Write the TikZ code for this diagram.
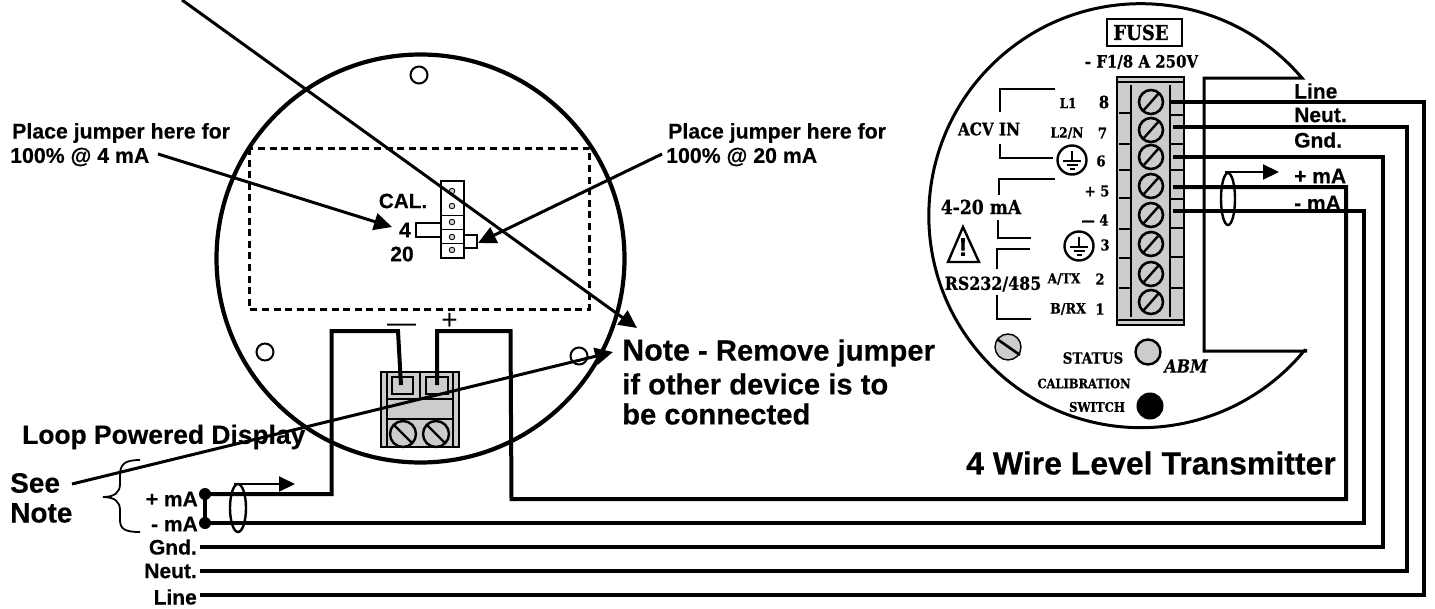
\documentclass[tikz,border=0pt]{standalone}
\usepackage{fontspec}
\setmainfont{Liberation Sans}[BoldFeatures={FakeBold=0.35}]
\newfontfamily\srf[FakeStretch=0.88,BoldFeatures={FakeBold=0.6},BoldItalicFeatures={FakeBold=0.6}]{DejaVu Serif}
\usetikzlibrary{arrows.meta,decorations.pathreplacing}
\definecolor{pgray}{HTML}{CCCCCC}
\tikzset{
  sa/.style={font=\fontsize{#1}{#1}\selectfont\bfseries,inner sep=0pt,text=black},
  se/.style={font=\srf\fontsize{#1}{#1}\selectfont\bfseries,inner sep=0pt,text=black},
  wire/.style={line width=4pt,line join=miter},
  brk/.style={line width=2.2pt},
  thin arrow/.style={line width=3pt,-{Triangle[length=18pt,width=17pt]}},
  slot/.style={draw=black,fill=pgray,line width=2.4pt},
  hole/.style={draw=black,fill=white,line width=2pt},
}
\begin{document}
\begin{tikzpicture}[x=1pt,y=-1pt]
\useasboundingbox (0,0) rectangle (1435,608);
\fill[white] (0,0) rectangle (1435,608);

% ---------- left housing
\draw[line width=4.2pt] (420.5,258.5) circle[radius=204];
\draw[hole] (419,75) circle[radius=8.5];
\draw[hole] (265,352) circle[radius=8.5];
\draw[hole] (579,356) circle[radius=8.5];
\draw[line width=3pt,dash pattern=on 7pt off 4.6pt] (249,148) rectangle (589,309);

% jumper strip
\draw[line width=1.5pt,fill=white] (416,223) rectangle (441,237);
\draw[line width=1.5pt,fill=white] (464,235) rectangle (477,248);
\draw[line width=2.6pt,fill=white] (441,181) rectangle (464,258);
\foreach \y in {215,229,243} \draw[line width=1pt] (441,\y) -- (464,\y);
\foreach \y in {191,206,222,237,250} \draw[fill=pgray,line width=.8pt] (452,\y) circle[radius=2.8];

% left terminal block
\draw[fill=pgray,line width=2.2pt] (381,372) rectangle (459,447);
\draw[line width=1.6pt] (387,372) -- (387,447) (453,372) -- (453,447)
  (420,372) -- (420,399) (387,399) -- (453,399) (387,419) -- (453,419);
\draw[line width=2.4pt] (392,377) rectangle (413,394);
\draw[line width=2.4pt] (426,377) rectangle (448,394);
\foreach \x in {403,436}{
  \draw[slot] (\x,434) circle[radius=13];
  \draw[line width=2.4pt] (\x-9,425) -- (\x+9,443);
}
\node[font=\fontsize{29}{29}\selectfont,inner sep=0pt] (minus) at (401.5,328) {—};
\node[font=\fontsize{28}{28}\selectfont,inner sep=0pt] (plus) at (449.5,321) {+};

% ---------- right housing
\coordinate (arcA) at (1302,78);
\coordinate (arcB) at (1307,351);
\draw[line width=3pt,line join=miter] (arcB) -- (1204,351) -- (1204,78) -- (arcA)
  arc[start angle=-40.5,end angle=-320.6,radius=212] -- (arcB);

% right terminal block
\draw[fill=pgray,line width=2.4pt] (1117,77) rectangle (1184,325);
\draw[line width=2pt] (1117,82) -- (1184,82) (1117,320) -- (1184,320);
\draw[line width=2.2pt] (1131,85) -- (1131,317) (1170,85) -- (1170,317);
\foreach \y in {113,144,170,198,229,258,288} \draw[line width=1.8pt] (1119,\y) -- (1131,\y);
\foreach \y in {115,144,170,199,228,257,288} \draw[line width=1.8pt] (1170,\y) -- (1183,\y);
\foreach \y in {102,130,157,186,215,244,274,302}{
  \draw[line width=2.6pt,fill=pgray] (1151,\y) circle[radius=12];
  \draw[line width=2.4pt] (1143,\y+9) -- (1159,\y-9);
}

% FUSE
\node[draw,line width=1.3pt,minimum width=75pt,minimum height=27pt,inner sep=0pt] (fuse) at (1144.5,32.5) {};
\node[se=20.5] (fusetxt) at (1141,32.5) {FUSE};
\node[se=17] (frate) at (1141.5,62) {- F1/8 A 250V};

% panel labels
\node[se=13.5] (l1) at (1068,103) {L1};
\node[se=17] (t8) at (1104,102) {8};
\node[se=14] (l2) at (1067,133) {L2/N};
\node[se=15] (t7) at (1102.5,133) {7};
\node[se=15] (t6) at (1101,161) {6};
\node[se=15] (t5) at (1097,191) {+ 5};
\node[se=15] (t4) at (1095,220) {— 4};
\node[se=15] (t3) at (1105,245) {3};
\node[se=14] (atx) at (1064,279) {A/TX};
\node[se=15] (t2) at (1100,279) {2};
\node[se=14.5] (brx) at (1068,309) {B/RX};
\node[se=15] (t1) at (1100,309) {1};
\node[se=17.3] (acv) at (989,129) {ACV IN};
\node[se=19.5] (ma420) at (981,207) {4-20 mA};
\node[se=18] (rs) at (993,284) {RS232/485};

% panel brackets
\draw[brk] (1055,89) -- (1000,89) -- (1000,112);
\draw[brk] (1000,144) -- (1000,158) -- (1053,158);
\draw[brk] (1055,179) -- (999,179) -- (999,195);
\draw[brk] (998,220) -- (998,238) -- (1031,238);
\draw[brk] (1030,249) -- (997,249) -- (997,269);
\draw[brk] (997,295) -- (997,319) -- (1031,319);

% ground symbols
\foreach \cx/\cy in {1072/160,1079/246}{
  \draw[line width=2.4pt] (\cx,\cy) circle[radius=14.5];
  \draw[line width=1.8pt] (\cx,\cy-9) -- (\cx,\cy+1)
    (\cx-9,\cy+1) -- (\cx+9,\cy+1)
    (\cx-5.5,\cy+5) -- (\cx+5.5,\cy+5)
    (\cx-2.5,\cy+9) -- (\cx+2.5,\cy+9);
}

% warning triangle
\draw[line width=2.4pt,line join=miter] (963,227) -- (979,262) -- (948,262) -- cycle;
\node[sa=26] (warn) at (963,247) {!};

% status area
\draw[line width=1.4pt,fill=pgray] (1008,347) circle[radius=13];
\draw[line width=2.6pt] (997,339) -- (1020,355);
\node[se=15.4] (status) at (1093,358) {STATUS};
\draw[line width=2.4pt,fill=pgray] (1148,352) circle[radius=12.5];
\node[font=\srf\fontsize{18}{18}\selectfont\bfseries\itshape,inner sep=0pt] (abm) at (1186,366) {ABM};
\node[se=13] (calib) at (1084,383.5) {CALIBRATION};
\node[se=13.2] (switch) at (1097,407) {SWITCH};
\fill (1150,406) circle[radius=13.5];

% ---------- wires
\coordinate (pos) at (205,494);
\coordinate (neg) at (205,523);
\coordinate (gndL) at (200,547);
\coordinate (neuL) at (200,571);
\coordinate (linL) at (200,595);
\coordinate (termL) at (1170,102);
\coordinate (termN) at (1173,127);
\coordinate (termG) at (1173,157);
\coordinate (termP) at (1173,187);
\coordinate (termM) at (1173,211);
\coordinate (blkM) at (401,385);
\coordinate (blkP) at (437,385);

\draw[wire] (pos) -- (331.5,494) -- (331.5,331) -- (398,331) -- (blkM);
\draw[wire] (blkP) -- (437,331) -- (510.5,331) -- (511.5,499) -- (1346,499) -- (1346,187) -- (termP);
\draw[wire] (neg) -- (1364,523) -- (1364,211) -- (termM);
\draw[wire] (gndL) -- (1383,547) -- (1383,157) -- (termG);
\draw[wire] (neuL) -- (1407,571) -- (1407,127) -- (termN);
\draw[wire] (linL) -- (1424,595) -- (1424,102) -- (termL);
\draw[wire] (pos) -- (neg);
\fill (pos) circle[radius=6];
\fill (neg) circle[radius=6];

% cable markers
\draw[line width=2.4pt] (238,508) ellipse[x radius=8,y radius=24];
\coordinate (cabL) at (234,484);
\coordinate (cabLe) at (295,484);
\draw[line width=2pt,-{Triangle[length=16pt,width=15pt]}] (cabL) -- (cabLe);
\draw[line width=2.4pt] (1228,199) ellipse[x radius=7,y radius=26];
\coordinate (cabR) at (1225,172);
\coordinate (cabRe) at (1279,172);
\draw[line width=2pt,-{Triangle[length=16pt,width=15pt]}] (cabR) -- (cabRe);

% brace
\draw[line width=1.8pt] (140,460) .. controls (125,460) and (120,464) .. (120,475)
  -- (120,484) .. controls (120,492) and (115,497) .. (103,497)
  .. controls (115,497) and (120,502) .. (120,510)
  -- (120,520) .. controls (120,529) and (125,532) .. (140,532);

% ---------- left labels
\node[sa=21.3,anchor=west] (pj4a) at (12,133) {Place jumper here for};
\node[sa=21.3,anchor=west] (pj4b) at (10,157) {100\% @ 4 mA};
\node[sa=21.3,anchor=west] (pj20a) at (668,133) {Place jumper here for};
\node[sa=21.3,anchor=west] (pj20b) at (666,157) {100\% @ 20 mA};
\node[sa=20.7] (cal) at (403,201) {CAL.};
\node[sa=21] (c4) at (405,230) {4};
\node[sa=21] (c20) at (402,254) {20};
\node[sa=26.4,anchor=west] (lpd) at (22,437) {Loop Powered Display};
\node[sa=28,anchor=west] (see) at (10,483) {See};
\node[sa=28,anchor=west] (seenote) at (10,513) {Note};
\node[sa=21,anchor=east] (pma) at (198,499) {+ mA};
\node[sa=21,anchor=east] (mma) at (198,524) {- mA};
\node[sa=21,anchor=east] (gl) at (197,547) {Gnd.};
\node[sa=21,anchor=east] (nl) at (197,571) {Neut.};
\node[sa=21,anchor=east] (ll) at (197,597) {Line};

% right labels
\node[sa=21,anchor=west] (rline) at (1294,91) {Line};
\node[sa=21,anchor=west] (rneut) at (1294,115) {Neut.};
\node[sa=21,anchor=west] (rgnd) at (1294,140) {Gnd.};
\node[sa=21,anchor=west] (rpma) at (1294,176) {+ mA};
\node[sa=21,anchor=west] (rmma) at (1294,203) {- mA};

% note text
\node[sa=29.2,anchor=west] (note1) at (622,353) {{\fontsize{30.5}{30.5}\selectfont Note} - Remove jumper};
\node[sa=29.2,anchor=west] (note2) at (622,384) {if other device is to};
\node[sa=29.2,anchor=west] (note3) at (622,414) {be connected};
\node[sa=32,anchor=west] (title) at (966,463) {4 Wire Level Transmitter};

% ---------- pointers
\coordinate (from4) at (158,154);
\coordinate (to4) at (392,227);
\coordinate (from20) at (662,154);
\coordinate (to20) at (478,243);
\coordinate (fromTop) at (182,0);
\coordinate (toNote) at (637,328);
\coordinate (fromSee) at (72,484);
\coordinate (toNoteB) at (613,352);
\draw[thin arrow] (from4) -- (to4);
\draw[thin arrow] (from20) -- (to20);
\draw[thin arrow] (fromTop) -- (toNote);
\draw[thin arrow] (fromSee) -- (toNoteB);
\end{tikzpicture}
\end{document}
